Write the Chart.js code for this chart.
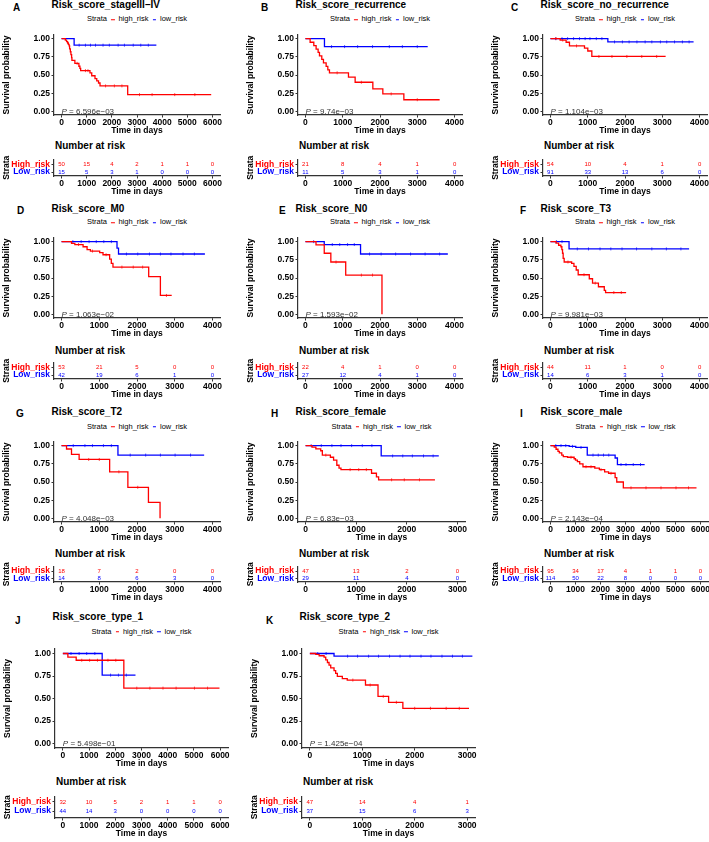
<!DOCTYPE html>
<html>
<head>
<meta charset="utf-8">
<script src="https://cdn.jsdelivr.net/npm/chart.js@4.4.1/dist/chart.umd.min.js"></script>
<style>
html, body { margin: 0; padding: 0; background: #fff; }
body { width: 709px; height: 842px; position: relative; overflow: hidden; font-family: 'Liberation Sans', Arial, sans-serif; }
.t { position: absolute; white-space: nowrap; line-height: 1; transform: translateY(-50%); color: #000; }
.leg { position: absolute; white-space: nowrap; line-height: 1; transform: translate(-50%, -50%); font-size: 7.5px; color: #000; }
.key { display: inline-block; width: 3.5px; height: 1.5px; vertical-align: middle; margin: 0 4px; }
canvas { position: absolute; }
</style>
</head>
<body>
<script>
Chart.defaults.font.family = "'Liberation Sans', Arial, sans-serif";
Chart.defaults.color = '#000';

const RED = '#ff0000';
const BLUE = '#0000ff';

// ticks
const ticks6000 = [0, 1000, 2000, 3000, 4000, 5000, 6000];
const ticks4000 = [0, 1000, 2000, 3000, 4000];
const ticks3000 = [0, 1000, 2000, 3000];
const survTicks = [0, 0.25, 0.5, 0.75, 1];

// A - stageIII-IV
const aHigh = [[0, 1], [150, 0.98], [200, 0.96], [240, 0.94], [270, 0.92], [300, 0.9], [320, 0.86], [350, 0.82], [373, 0.78], [400, 0.74], [413, 0.7], [530, 0.66], [690, 0.62], [730, 0.59], [760, 0.56], [1130, 0.53], [1200, 0.49], [1330, 0.45], [1400, 0.42], [1470, 0.39], [1530, 0.35], [2630, 0.23], [5950, 0.23]];
const aLow = [[0, 1], [500, 0.91], [3770, 0.91]];
const aHighCens = [620, 950, 1050, 1750, 2100, 2400, 3100, 3600, 4500, 5300];
const aLowCens = [700, 950, 1150, 1350, 1650, 1900, 2250, 2500, 2850, 3150, 3450];
const aRiskHigh = [50, 15, 4, 2, 1, 1, 0];
const aRiskLow = [15, 5, 3, 1, 0, 0, 0];

// B - recurrence
const bHigh = [[0, 1], [125, 0.95], [224, 0.905], [286, 0.857], [340, 0.81], [376, 0.762], [438, 0.714], [483, 0.667], [555, 0.619], [600, 0.571], [644, 0.53], [1154, 0.47], [1333, 0.4], [1808, 0.31], [2076, 0.24], [2640, 0.16], [3600, 0.16]];
const bLow = [[0, 1], [510, 0.89], [3280, 0.89]];
const bHighCens = [850, 1500, 2300, 3000];
const bLowCens = [700, 1050, 1400, 1800, 2250, 2600, 3000];
const bRiskHigh = [21, 8, 4, 1, 0];
const bRiskLow = [11, 5, 3, 1, 0];

// C - no_recurrence
const cHigh = [[0, 1], [260, 0.98], [420, 0.95], [510, 0.9], [913, 0.87], [1002, 0.83], [1110, 0.755], [3090, 0.755]];
const cLow = [[0, 1], [1540, 0.955], [3840, 0.955]];
const cHighCens = [150, 330, 700, 1300, 1650, 2050, 2450, 2850];
const cLowCens = [140, 310, 460, 620, 780, 930, 1060, 1230, 1380, 1720, 1930, 2110, 2320, 2540, 2720, 2950, 3120, 3330, 3540, 3720];
const cRiskHigh = [54, 10, 4, 1, 0];
const cRiskLow = [91, 33, 13, 6, 0];

// D - M0
const dHigh = [[0, 1], [264, 0.975], [352, 0.96], [571, 0.93], [677, 0.89], [765, 0.87], [1011, 0.85], [1099, 0.82], [1275, 0.76], [1319, 0.7], [1363, 0.65], [2310, 0.52], [2620, 0.26], [2920, 0.26]];
const dLow = [[0, 1], [1470, 0.91], [1510, 0.83], [3800, 0.83]];
const dHighCens = [450, 820, 1180, 1600, 1900, 2150, 2780];
const dLowCens = [300, 520, 730, 920, 1120, 1320, 1720, 2020, 2330, 2620, 2900, 3220, 3520];
const dRiskHigh = [53, 21, 5, 0, 0];
const dRiskLow = [42, 19, 6, 1, 0];

// E - N0
const eHigh = [[0, 1], [283, 0.955], [504, 0.84], [681, 0.72], [1080, 0.54], [2053, 0]];
const eLow = [[0, 1], [504, 0.96], [1478, 0.83], [3820, 0.83]];
const eHighCens = [820, 1500, 1800];
const eLowCens = [220, 720, 920, 1130, 1310, 1720, 2030, 2420, 2820, 3210, 3600];
const eRiskHigh = [22, 4, 1, 0, 0];
const eRiskLow = [27, 12, 4, 1, 0];

// F - T3
const fHigh = [[0, 1], [149, 0.98], [219, 0.95], [280, 0.93], [306, 0.89], [324, 0.84], [341, 0.77], [368, 0.72], [569, 0.7], [630, 0.66], [691, 0.61], [744, 0.545], [1042, 0.49], [1129, 0.43], [1287, 0.38], [1444, 0.33], [1479, 0.3], [2030, 0.3]];
const fLow = [[0, 1], [499, 0.9], [3720, 0.9]];
const fHighCens = [470, 900, 1200, 1700, 1900];
const fLowCens = [160, 310, 720, 1020, 1330, 1620, 1920, 2310, 2720, 3110, 3500];
const fRiskHigh = [44, 11, 1, 0, 0];
const fRiskLow = [14, 6, 3, 1, 0];

// G - T2
const gHigh = [[0, 1], [132, 0.954], [264, 0.88], [466, 0.81], [1275, 0.64], [1758, 0.427], [2303, 0.22], [2611, 0]];
const gLow = [[0, 1], [1495, 0.87], [3780, 0.87]];
const gHighCens = [720, 1000, 1520, 2020];
const gLowCens = [310, 620, 820, 1110, 1320, 1820, 2230, 2620, 3010, 3420];
const gRiskHigh = [18, 7, 2, 0, 0];
const gRiskLow = [14, 8, 6, 3, 0];

// H - female
const hHigh = [[0, 1], [127, 0.98], [203, 0.955], [299, 0.93], [331, 0.87], [490, 0.84], [553, 0.8], [617, 0.73], [661, 0.69], [699, 0.67], [1303, 0.62], [1400, 0.57], [1443, 0.53], [2556, 0.53]];
const hLow = [[0, 1], [1494, 0.858], [2632, 0.858]];
const hHighCens = [400, 880, 1050, 1200, 1700, 1950, 2250];
const hLowCens = [110, 310, 520, 700, 910, 1120, 1310, 1720, 1920, 2110, 2330, 2520];
const hRiskHigh = [47, 13, 2, 0];
const hRiskLow = [29, 11, 4, 0];

// I - male
const iHigh = [[0, 1], [150, 0.98], [223, 0.95], [300, 0.92], [354, 0.9], [450, 0.87], [512, 0.85], [682, 0.84], [945, 0.82], [1000, 0.8], [1076, 0.78], [1168, 0.75], [1299, 0.71], [1772, 0.69], [1955, 0.67], [2165, 0.64], [2323, 0.62], [2585, 0.56], [2650, 0.5], [2913, 0.42], [5840, 0.42]];
const iLow = [[0, 1], [748, 0.99], [1010, 0.975], [1470, 0.87], [2585, 0.83], [2677, 0.74], [3766, 0.74]];
const iHighCens = [820, 1420, 1620, 2020, 2420, 3220, 3820, 4420, 5020, 5520];
const iLowCens = [210, 420, 610, 880, 1220, 1700, 1910, 2120, 2330, 2820, 3020, 3310, 3600];
const iRiskHigh = [95, 34, 17, 4, 1, 1, 0];
const iRiskLow = [114, 50, 22, 8, 0, 0, 0];

// J - type_1
const jHigh = [[0, 1], [191, 0.96], [508, 0.925], [2326, 0.615], [5975, 0.615]];
const jLow = [[0, 1], [1500, 0.76], [2771, 0.76]];
const jHighCens = [720, 1020, 1320, 1720, 2020, 2820, 3320, 3820, 4320, 5020, 5520];
const jLowCens = [310, 620, 910, 1220, 1820, 2120, 2420];
const jRiskHigh = [32, 10, 5, 2, 1, 1, 0];
const jRiskLow = [44, 14, 3, 0, 0, 0, 0];

// K - type_2
const kHigh = [[0, 1], [113, 0.99], [177, 0.975], [271, 0.96], [303, 0.93], [335, 0.9], [366, 0.87], [398, 0.84], [461, 0.81], [492, 0.78], [524, 0.745], [619, 0.72], [713, 0.705], [1061, 0.65], [1300, 0.524], [1502, 0.458], [1774, 0.391], [3036, 0.391]];
const kLow = [[0, 1], [461, 0.97], [3100, 0.97]];
const kHighCens = [820, 1150, 1400, 1650, 2000, 2300, 2600, 2850];
const kLowCens = [150, 310, 720, 910, 1120, 1310, 1520, 1720, 1910, 2120, 2310, 2520, 2720, 2910];
const kRiskHigh = [47, 14, 4, 1];
const kRiskLow = [37, 15, 6, 3];

// page layout of the four rows
const rows = [
  { kmTop: 35, kmBottom: 115, tabTop: 155, tabHigh: 161, tabLow: 171, tabBottom: 176, nrY: 146.3, titleY: 5, letterY: 7.5, legY: 19.3 },
  { kmTop: 238, kmBottom: 318, tabTop: 358, tabHigh: 364, tabLow: 374, tabBottom: 379, nrY: 350.5, titleY: 208.5, letterY: 211, legY: 222.3 },
  { kmTop: 442, kmBottom: 522, tabTop: 562, tabHigh: 568, tabLow: 578, tabBottom: 582.5, nrY: 553.8, titleY: 412, letterY: 414, legY: 426.5 },
  { kmTop: 649, kmBottom: 748, tabTop: 792, tabHigh: 798.5, tabLow: 810, tabBottom: 818.5, nrY: 781.7, titleY: 616.7, letterY: 620.5, legY: 631.5 }
];

const panels = [
  { id: 'A', title: 'Risk_score_stageIII–IV', p: '6.596e−03', ticks: ticks6000, high: aHigh, low: aLow, highCens: aHighCens, lowCens: aLowCens, riskHigh: aRiskHigh, riskLow: aRiskLow, row: 0, l: 54, r: 220, lx: 13 },
  { id: 'B', title: 'Risk_score_recurrence', p: '9.74e−03', ticks: ticks4000, high: bHigh, low: bLow, highCens: bHighCens, lowCens: bLowCens, riskHigh: bRiskHigh, riskLow: bRiskLow, row: 0, l: 298, r: 462, lx: 261 },
  { id: 'C', title: 'Risk_score_no_recurrence', p: '1.104e−03', ticks: ticks4000, high: cHigh, low: cLow, highCens: cHighCens, lowCens: cLowCens, riskHigh: cRiskHigh, riskLow: cRiskLow, row: 0, l: 543, r: 707, lx: 511 },
  { id: 'D', title: 'Risk_score_M0', p: '1.063e−02', ticks: ticks4000, high: dHigh, low: dLow, highCens: dHighCens, lowCens: dLowCens, riskHigh: dRiskHigh, riskLow: dRiskLow, row: 1, l: 54, r: 220, lx: 17 },
  { id: 'E', title: 'Risk_score_N0', p: '1.593e−02', ticks: ticks4000, high: eHigh, low: eLow, highCens: eHighCens, lowCens: eLowCens, riskHigh: eRiskHigh, riskLow: eRiskLow, row: 1, l: 298, r: 462, lx: 279 },
  { id: 'F', title: 'Risk_score_T3', p: '9.981e−03', ticks: ticks4000, high: fHigh, low: fLow, highCens: fHighCens, lowCens: fLowCens, riskHigh: fRiskHigh, riskLow: fRiskLow, row: 1, l: 543, r: 707, lx: 520 },
  { id: 'G', title: 'Risk_score_T2', p: '4.048e−03', ticks: ticks4000, high: gHigh, low: gLow, highCens: gHighCens, lowCens: gLowCens, riskHigh: gRiskHigh, riskLow: gRiskLow, row: 2, l: 54, r: 220, lx: 16 },
  { id: 'H', title: 'Risk_score_female', p: '6.83e−03', ticks: ticks3000, high: hHigh, low: hLow, highCens: hHighCens, lowCens: hLowCens, riskHigh: hRiskHigh, riskLow: hRiskLow, row: 2, l: 298, r: 465, lx: 271 },
  { id: 'I', title: 'Risk_score_male', p: '2.143e−04', ticks: ticks6000, high: iHigh, low: iLow, highCens: iHighCens, lowCens: iLowCens, riskHigh: iRiskHigh, riskLow: iRiskLow, row: 2, l: 543, r: 708, lx: 520 },
  { id: 'J', title: 'Risk_score_type_1', p: '5.498e−01', ticks: ticks6000, high: jHigh, low: jLow, highCens: jHighCens, lowCens: jLowCens, riskHigh: jRiskHigh, riskLow: jRiskLow, row: 3, l: 55, r: 228, lx: 15 },
  { id: 'K', title: 'Risk_score_type_2', p: '1.425e−04', ticks: ticks3000, high: kHigh, low: kLow, highCens: kHighCens, lowCens: kLowCens, riskHigh: kRiskHigh, riskLow: kRiskLow, row: 3, l: 302, r: 475, lx: 266 }
];

const Y_W = 52;      // room for y tick labels + axis title
const X_H = 21;      // room for x tick labels + axis title
const PAD_R = 14;
const BOLD = { size: 8.5, weight: 'bold' };

function survAt(curve, t) {
  let s = curve[0][1];
  for (const [x, y] of curve) if (x <= t) s = y;
  return s;
}

function addText(text, x, y, css) {
  const d = document.createElement('div');
  d.className = 't';
  d.textContent = text;
  d.style.left = x + 'px';
  d.style.top = y + 'px';
  Object.assign(d.style, css || {});
  document.body.appendChild(d);
}

function addLegend(cx, cy) {
  const d = document.createElement('div');
  d.className = 'leg';
  d.style.left = cx + 'px';
  d.style.top = cy + 'px';
  d.innerHTML = 'Strata<span class="key" style="background:' + RED + '"></span>high_risk' +
    '<span class="key" style="background:' + BLUE + '"></span>low_risk';
  document.body.appendChild(d);
}

function makeCanvas(left, top, w, h) {
  const cv = document.createElement('canvas');
  cv.width = w;
  cv.height = h;
  cv.style.left = left + 'px';
  cv.style.top = top + 'px';
  document.body.appendChild(cv);
  return cv;
}

function xAxis(ticks) {
  const tMax = ticks[ticks.length - 1];
  return {
    type: 'linear',
    min: -0.05 * tMax,
    max: 1.05 * tMax,
    afterBuildTicks: s => { s.ticks = ticks.map(v => ({ value: v })); },
    afterFit: s => { s.height = X_H; },
    ticks: { autoSkip: false, maxRotation: 0, padding: 0, font: BOLD, color: '#000', callback: v => String(v) },
    grid: { drawOnChartArea: false, tickLength: 2.5, tickColor: '#333', tickWidth: 1 },
    border: { color: '#333', width: 1.2 },
    title: { display: true, text: 'Time in days', font: BOLD, color: '#000', padding: 0 }
  };
}

// p-value text at (0, 0)
const pvalPlugin = {
  id: 'pval',
  afterDatasetsDraw(chart, args, opts) {
    const { ctx, scales: { x, y } } = chart;
    const px = x.getPixelForValue(0), py = y.getPixelForValue(0);
    ctx.save();
    ctx.fillStyle = '#333';
    ctx.textBaseline = 'middle';
    ctx.textAlign = 'left';
    ctx.font = "italic 8px 'Liberation Sans'";
    ctx.fillText('P', px, py);
    const w = ctx.measureText('P').width;
    ctx.font = "8px 'Liberation Sans'";
    ctx.fillText(' = ' + opts.text, px + w, py);
    ctx.restore();
  }
};

// numbers at risk drawn at each point of the table chart
const riskPlugin = {
  id: 'riskNums',
  afterDatasetsDraw(chart) {
    const { ctx } = chart;
    ctx.save();
    ctx.font = "6px 'Liberation Sans'";
    ctx.textAlign = 'center';
    ctx.textBaseline = 'middle';
    chart.data.datasets.forEach((ds, i) => {
      ctx.fillStyle = ds.textColor;
      chart.getDatasetMeta(i).data.forEach((el, j) => {
        ctx.fillText(String(ds.counts[j]), el.x, el.y);
      });
    });
    ctx.restore();
  }
};

function drawKM(p, g) {
  const padTop = 8;
  const w = (p.r - p.l) + Y_W + PAD_R;
  const h = padTop + (g.kmBottom - g.kmTop) + X_H;
  const cv = makeCanvas(p.l - Y_W, g.kmTop - padTop, w, h);
  const curve = (pts, color) => ({
    data: pts.map(([x, y]) => ({ x, y })),
    borderColor: color, borderWidth: 1.3, stepped: true, pointRadius: 0, fill: false
  });
  const cens = (times, pts, color) => ({
    data: times.map(t => ({ x: t, y: survAt(pts, t) })),
    showLine: false, pointStyle: 'line', rotation: 90, pointRadius: 1.5,
    borderColor: color, borderWidth: 0.7
  });
  new Chart(cv, {
    type: 'line',
    data: {
      datasets: [
        curve(p.high, RED), curve(p.low, BLUE),
        cens(p.highCens, p.high, RED), cens(p.lowCens, p.low, BLUE)
      ]
    },
    options: {
      responsive: false, animation: false, devicePixelRatio: 1,
      layout: { padding: { top: padTop, right: PAD_R, left: 0, bottom: 0 } },
      plugins: { legend: { display: false }, tooltip: { enabled: false }, pval: { text: p.p } },
      scales: {
        x: xAxis(p.ticks),
        y: {
          type: 'linear', min: -0.05, max: 1.05,
          afterBuildTicks: s => { s.ticks = survTicks.map(v => ({ value: v })); },
          afterFit: s => { s.width = Y_W; },
          ticks: { autoSkip: false, padding: 1.5, font: BOLD, color: '#000', callback: v => v.toFixed(2) },
          grid: { drawOnChartArea: false, tickLength: 2.5, tickColor: '#333', tickWidth: 1 },
          border: { color: '#333', width: 1.2 },
          title: { display: true, text: 'Survival probability', font: BOLD, color: '#000', padding: 0 }
        }
      }
    },
    plugins: [pvalPlugin]
  });
}

function drawTable(p, g) {
  const padTop = 2;
  const unit = g.tabLow - g.tabHigh;
  const yMin = 1 - (g.tabBottom - g.tabLow) / unit;
  const yMax = 2 + (g.tabHigh - g.tabTop) / unit;
  const w = (p.r - p.l) + Y_W + PAD_R;
  const h = padTop + (g.tabBottom - g.tabTop) + X_H;
  const cv = makeCanvas(p.l - Y_W, g.tabTop - padTop, w, h);
  new Chart(cv, {
    type: 'scatter',
    data: {
      datasets: [
        { data: p.ticks.map(t => ({ x: t, y: 2 })), counts: p.riskHigh, textColor: RED, pointRadius: 0, showLine: false },
        { data: p.ticks.map(t => ({ x: t, y: 1 })), counts: p.riskLow, textColor: BLUE, pointRadius: 0, showLine: false }
      ]
    },
    options: {
      responsive: false, animation: false, devicePixelRatio: 1,
      layout: { padding: { top: padTop, right: PAD_R, left: 0, bottom: 0 } },
      plugins: { legend: { display: false }, tooltip: { enabled: false } },
      scales: {
        x: xAxis(p.ticks),
        y: {
          type: 'linear', min: yMin, max: yMax,
          afterBuildTicks: s => { s.ticks = [{ value: 1 }, { value: 2 }]; },
          afterFit: s => { s.width = Y_W; },
          ticks: {
            autoSkip: false, padding: 1.5, font: BOLD,
            color: c => (c.tick && c.tick.value === 2 ? RED : BLUE),
            callback: v => (v === 2 ? 'High_risk' : 'Low_risk')
          },
          grid: { drawOnChartArea: false, tickLength: 2.5, tickColor: '#333', tickWidth: 1 },
          border: { color: '#333', width: 1.2 },
          title: { display: true, text: 'Strata', font: BOLD, color: '#000', padding: 0 }
        }
      }
    },
    plugins: [riskPlugin]
  });
}

panels.forEach(p => {
  const g = rows[p.row];
  addText(p.id, p.lx, g.letterY, { fontSize: '10px', fontWeight: 'bold' });
  addText(p.title, p.l - 2.5, g.titleY, { fontSize: '10px', fontWeight: 'bold' });
  addLegend((p.l + p.r) / 2, g.legY);
  drawKM(p, g);
  addText('Number at risk', p.l + 1, g.nrY, { fontSize: '10px', fontWeight: 'bold' });
  drawTable(p, g);
});
</script>
</body>
</html>
